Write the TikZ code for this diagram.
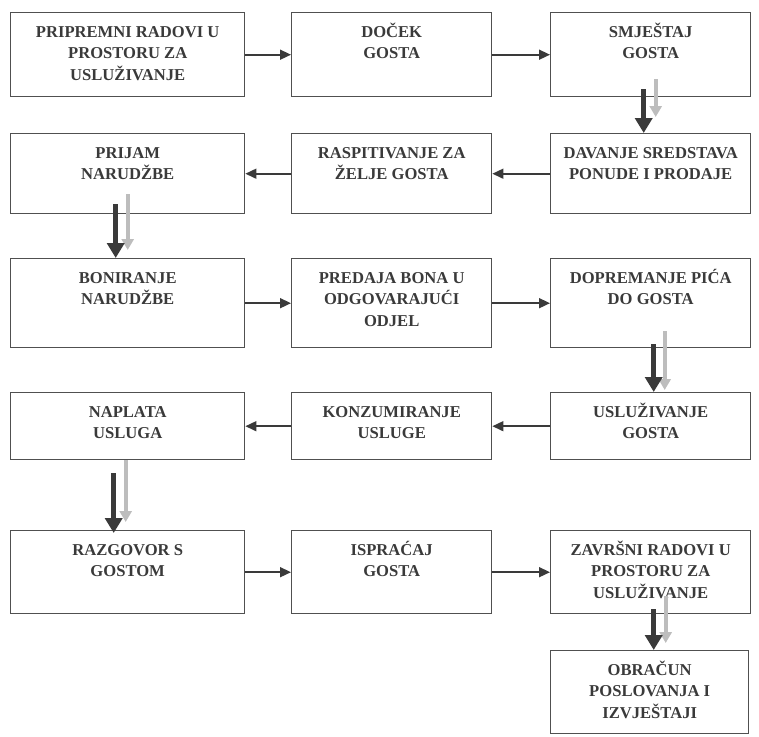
\documentclass[tikz,border=0pt]{standalone}
\usepackage{fontspec}
\setmainfont{Liberation Serif}
\usetikzlibrary{arrows.meta,calc}
\definecolor{txt}{HTML}{3A3A3A}
\definecolor{edge}{HTML}{505050}
\definecolor{lightarr}{HTML}{BDBDBD}
\definecolor{darkarr}{HTML}{3A3A3A}
\newcommand\boxtxt[3]{\parbox[c][#2][t]{#1}{\centering\fontsize{16.6}{21.5}\selectfont\bfseries\rule{0pt}{24.5pt}#3\par}}
\tikzset{
  stepbox/.style={draw=edge, line width=1.4pt, inner sep=0pt, anchor=north west, text=txt},
  harr/.style={draw=darkarr, line width=1.6pt, -{Triangle[width=10pt,length=11pt]}},
  darr/.style={draw=darkarr, line width=5pt, -{Triangle[width=17pt,length=15pt]}},
  larr/.style={draw=lightarr, line width=4pt, -{Triangle[width=12pt,length=11pt]}},
}
\begin{document}
\begin{tikzpicture}[x=1pt,y=-1pt]
\useasboundingbox (0,0) rectangle (759,736);
% row 1
\node[stepbox] (a1) at (10,12) {\boxtxt{234pt}{84pt}{PRIPREMNI RADOVI U\\PROSTORU ZA\\USLUŽIVANJE}};
\node[stepbox] (a2) at (291,12) {\boxtxt{200pt}{84pt}{DOČEK\\GOSTA}};
\node[stepbox] (a3) at (550,12) {\boxtxt{200pt}{84pt}{SMJEŠTAJ\\GOSTA}};
% row 2
\node[stepbox] (b1) at (10,133) {\boxtxt{234pt}{80pt}{PRIJAM\\NARUDŽBE}};
\node[stepbox] (b2) at (291,133) {\boxtxt{200pt}{80pt}{RASPITIVANJE ZA\\ŽELJE GOSTA}};
\node[stepbox] (b3) at (550,133) {\boxtxt{200pt}{80pt}{DAVANJE SREDSTAVA\\PONUDE I PRODAJE}};
% row 3
\node[stepbox] (c1) at (10,258) {\boxtxt{234pt}{89pt}{BONIRANJE\\NARUDŽBE}};
\node[stepbox] (c2) at (291,258) {\boxtxt{200pt}{89pt}{PREDAJA BONA U\\ODGOVARAJUĆI\\ODJEL}};
\node[stepbox] (c3) at (550,258) {\boxtxt{200pt}{89pt}{DOPREMANJE PIĆA\\DO GOSTA}};
% row 4
\node[stepbox] (d1) at (10,392) {\boxtxt{234pt}{67pt}{NAPLATA\\USLUGA}};
\node[stepbox] (d2) at (291,392) {\boxtxt{200pt}{67pt}{KONZUMIRANJE\\USLUGE}};
\node[stepbox] (d3) at (550,392) {\boxtxt{200pt}{67pt}{USLUŽIVANJE\\GOSTA}};
% row 5
\node[stepbox] (e1) at (10,530) {\boxtxt{234pt}{83pt}{RAZGOVOR S\\GOSTOM}};
\node[stepbox] (e2) at (291,530) {\boxtxt{200pt}{83pt}{ISPRAĆAJ\\GOSTA}};
\node[stepbox] (e3) at (550,530) {\boxtxt{200pt}{83pt}{ZAVRŠNI RADOVI U\\PROSTORU ZA\\USLUŽIVANJE}};
% row 6
\node[stepbox] (f3) at (550,650) {\boxtxt{198pt}{83pt}{OBRAČUN\\POSLOVANJA I\\IZVJEŠTAJI}};
% horizontal connectors
\draw[harr] (a1.east) -- (a2.west);
\draw[harr] (a2.east) -- (a3.west);
\draw[harr] (b3.west) -- (b2.east);
\draw[harr] (b2.west) -- (b1.east);
\draw[harr] (c1.east) -- (c2.west);
\draw[harr] (c2.east) -- (c3.west);
\draw[harr] (d3.west) -- (d2.east);
\draw[harr] (d2.west) -- (d1.east);
\draw[harr] (e1.east) -- (e2.west);
\draw[harr] (e2.east) -- (e3.west);
% vertical connectors: light then dark
\draw[larr] ([xshift=5pt,yshift=18pt]a3.south) -- ([xshift=5pt,yshift=16pt]b3.north);
\draw[darr] ([xshift=-7pt,yshift=8pt]a3.south) -- ([xshift=-7pt]b3.north);
\draw[larr] ([xshift=0pt,yshift=20pt]b1.south) -- ([xshift=0pt,yshift=8pt]c1.north);
\draw[darr] ([xshift=-12pt,yshift=10pt]b1.south) -- ([xshift=-12pt]c1.north);
\draw[larr] ([xshift=14pt,yshift=17pt]c3.south) -- ([xshift=14pt,yshift=2pt]d3.north);
\draw[darr] ([xshift=3pt,yshift=4pt]c3.south) -- ([xshift=3pt]d3.north);
\draw[larr] ([xshift=-2pt,yshift=0pt]d1.south) -- ([xshift=-2pt,yshift=8pt]e1.north);
\draw[darr] ([xshift=-14pt,yshift=-13pt]d1.south) -- ([xshift=-14pt,yshift=-3pt]e1.north);
\draw[larr] ([xshift=15pt,yshift=18pt]e3.south) -- ([xshift=16pt,yshift=7pt]f3.north);
\draw[darr] ([xshift=3pt,yshift=5pt]e3.south) -- ([xshift=4pt]f3.north);
\end{tikzpicture}
\end{document}
